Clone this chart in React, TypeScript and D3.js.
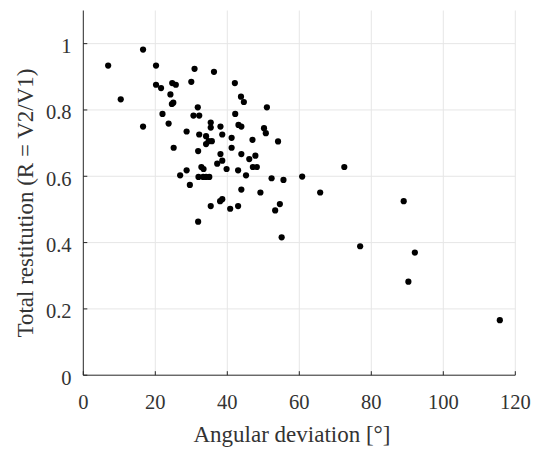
import React from "react";
import * as d3 from "d3";

const angle: number[] = [
  6.9, 10.4, 16.6, 16.6, 20.2, 20.2, 21.6, 22.0, 23.7, 24.2,
  24.7, 25.7, 24.6, 25.0, 25.1, 26.9, 28.7, 28.7, 29.6, 30.0,
  30.6, 30.9, 31.8, 32.2, 31.9, 32.2, 31.9, 32.0, 32.8, 33.4,
  33.3, 34.1, 35.0, 34.1, 34.1, 34.8, 35.4, 35.4, 35.7, 35.4,
  36.3, 37.2, 38.1, 38.1, 38.6, 38.6, 38.0, 38.6, 39.8, 40.8,
  41.2, 41.2, 42.1, 42.2, 43.1, 43.0, 43.0, 43.8, 44.6, 43.9,
  43.9, 43.9, 45.2, 46.1, 47.0, 47.1, 47.8, 48.2, 49.2, 50.2,
  50.7, 51.0, 52.3, 53.3, 54.1, 54.6, 55.1, 55.6, 60.8, 65.8,
  72.5, 76.9, 89.0, 90.3, 92.1, 115.7,
];

const restitution: number[] = [
  0.934, 0.832, 0.982, 0.750, 0.934, 0.876, 0.866, 0.788, 0.759, 0.847,
  0.881, 0.876, 0.818, 0.822, 0.686, 0.603, 0.735, 0.618, 0.574, 0.885,
  0.783, 0.924, 0.808, 0.783, 0.676, 0.726, 0.463, 0.598, 0.628, 0.622,
  0.598, 0.598, 0.598, 0.721, 0.697, 0.706, 0.762, 0.747, 0.706, 0.510,
  0.915, 0.638, 0.750, 0.667, 0.647, 0.726, 0.525, 0.531, 0.622, 0.502,
  0.716, 0.686, 0.881, 0.788, 0.755, 0.618, 0.510, 0.840, 0.824, 0.750,
  0.667, 0.560, 0.603, 0.652, 0.710, 0.628, 0.662, 0.628, 0.551, 0.745,
  0.730, 0.808, 0.594, 0.497, 0.705, 0.516, 0.416, 0.589, 0.599, 0.551,
  0.628, 0.389, 0.525, 0.282, 0.370, 0.166,
];

const xTicks: number[] = [0, 20, 40, 60, 80, 100, 120];
const yTicks: number[] = [0, 0.2, 0.4, 0.6, 0.8, 1];
const yTickLabels: string[] = ["0", "0.2", "0.4", "0.6", "0.8", "1"];
const xTitle = "Angular deviation [°]";
const yTitle = "Total restitution (R = V2/V1)";

export default function App() {
  const W = 538;
  const H = 449;
  const x = d3.scaleLinear().domain([0, 120]).range([83.3, 515.3]);
  const y = d3.scaleLinear().domain([0, 1.1]).range([375.2, 10.5]);
  const axisColor = "#262626";
  const textColor = "#333333";
  const grid = "#e6e6e6";
  const font = "'Liberation Serif', 'Times New Roman', serif";
  const [x0, x1] = x.range();
  const [y0, y1] = y.range();
  const points = angle.map((a, i) => ({ a, r: restitution[i] }));

  return (
    <svg
      width={W}
      height={H}
      style={{ position: "absolute", left: 0, top: 0, background: "#fff" }}
      fontFamily={font}
    >
      <rect x={0} y={0} width={W} height={H} fill="#fff" />
      {xTicks.filter((t) => t > 0).map((t) => (
        <line key={"gx" + t} x1={x(t)} x2={x(t)} y1={y0} y2={y1} stroke={grid} strokeWidth={1} />
      ))}
      {yTicks.filter((t) => t > 0).map((t) => (
        <line key={"gy" + t} x1={x0} x2={x1} y1={y(t)} y2={y(t)} stroke={grid} strokeWidth={1} />
      ))}
      {points.map((p, i) => (
        <circle key={i} cx={x(p.a)} cy={y(p.r)} r={3.1} fill="#000" />
      ))}
      <line x1={x0} x2={x1} y1={y0} y2={y0} stroke={axisColor} strokeWidth={1} />
      <line x1={x0} x2={x0} y1={y0} y2={y1} stroke={axisColor} strokeWidth={1} />
      {xTicks.map((t) => (
        <g key={"xt" + t}>
          <line x1={x(t)} x2={x(t)} y1={y0} y2={y0 - 4} stroke={axisColor} strokeWidth={1} />
          <text x={x(t)} y={408.5} textAnchor="middle" fontSize={20.5} fill={textColor}>
            {t}
          </text>
        </g>
      ))}
      {yTicks.map((t, i) => (
        <g key={"yt" + t}>
          <line x1={x0} x2={x0 + 4} y1={y(t)} y2={y(t)} stroke={axisColor} strokeWidth={1} />
          <text x={71.5} y={y(t)} dy="0.46em" textAnchor="end" fontSize={20.5} fill={textColor}>
            {yTickLabels[i]}
          </text>
        </g>
      ))}
      <text x={292} y={442} textAnchor="middle" fontSize={23} fill={textColor}>
        {xTitle}
      </text>
      <text
        transform={`translate(33, 203) rotate(-90)`}
        textAnchor="middle"
        fontSize={23}
        fill={textColor}
      >
        {yTitle}
      </text>
    </svg>
  );
}
